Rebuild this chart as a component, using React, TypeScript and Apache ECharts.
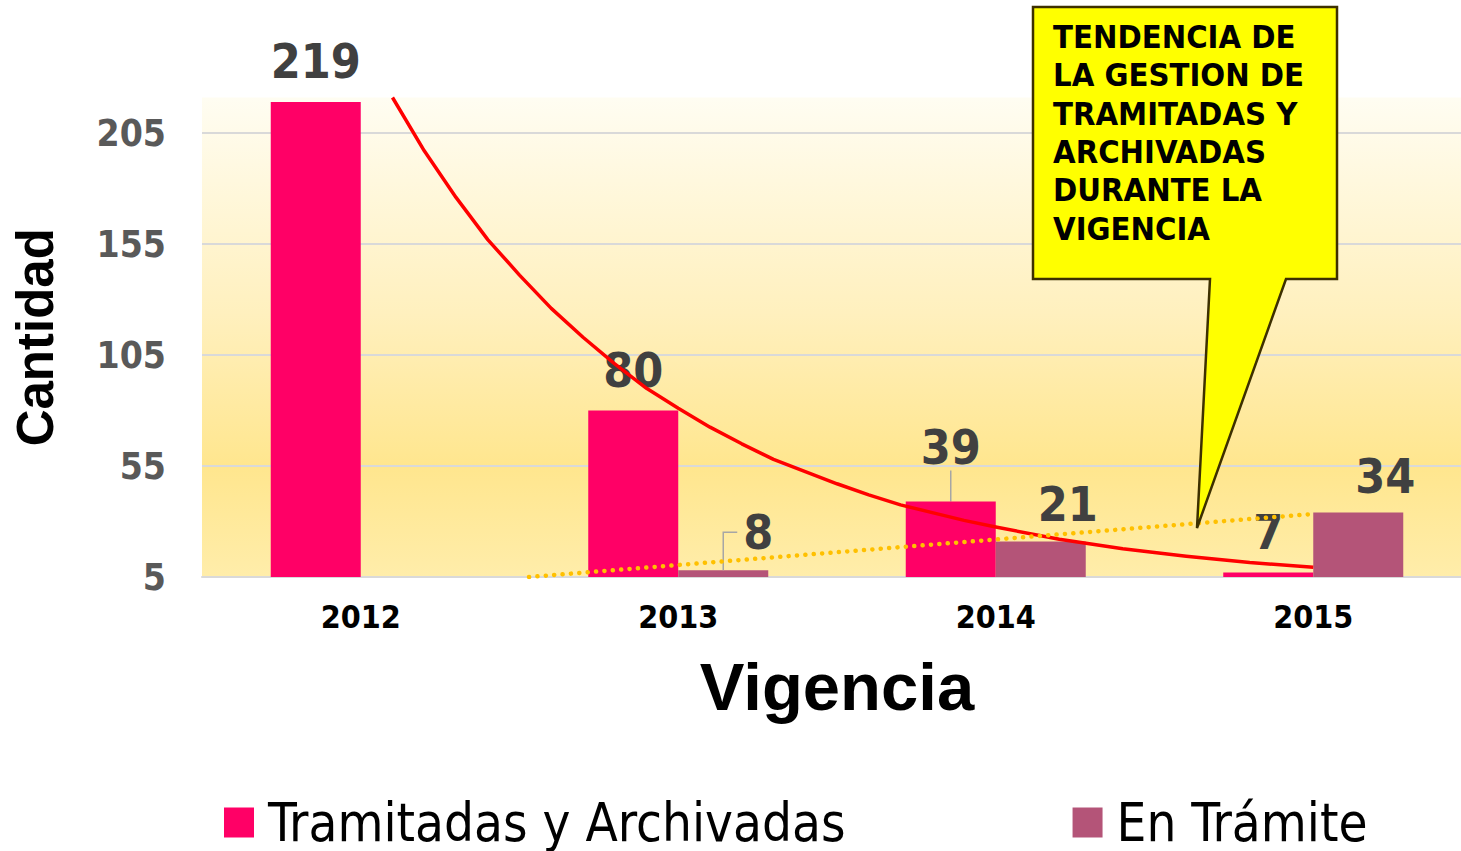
import React, { useEffect, useRef } from "react";
import * as echarts from "echarts";

const years = ["2012", "2013", "2014", "2015"];
const tramitadas = [219, 80, 39, 7];
const enTramite = [0, 8, 21, 34];
const yMin = 5;
const yMax = 221;
const yStep = 50;

// trend lines: [position along the year axis (2012 = 1), value]
const tramitadasTrend = [
  [1.1, 221], [1.2, 197], [1.3, 176], [1.4, 157], [1.5, 141], [1.6, 126],
  [1.7, 113], [1.8, 101], [1.9, 90], [2.0, 81], [2.1, 72.5], [2.2, 65],
  [2.3, 58], [2.4, 52.5], [2.5, 47], [2.6, 42], [2.7, 37.5], [2.8, 34],
  [2.9, 30.5], [3.0, 27.5], [3.2, 22], [3.4, 17.7], [3.6, 14.3], [3.8, 11.5],
  [4.0, 9.4],
];
const enTramiteTrend = [[1.53, 5], [4.0, 33.4]];

const seriesNames = ["Tramitadas y Archivadas", "En Trámite"];
const calloutLines = [
  "TENDENCIA DE",
  "LA GESTION DE",
  "TRAMITADAS Y",
  "ARCHIVADAS",
  "DURANTE LA",
  "VIGENCIA",
];

const COND = '"DejaVu Sans Condensed", "DejaVu Sans", sans-serif';
const PINK = "#FF0066";
const MAUVE = "#B45478";
const GUIDE = "#A6A6A6";
const BAR_W = 90;

// label offsets (styling) per series / data index
const tramLabelShift: Record<number, [number, number]> = { 2: [0, -14] };
const enLabelShift: Record<number, [number, number]> = { 1: [35, 3], 2: [27, 4], 3: [27, 4] };
const tramGuide = [2];
const enElbow = 1; // index of the "En Trámite" label with an elbow leader

export default function App() {
  const ref = useRef<HTMLDivElement>(null);
  useEffect(() => {
    if (!ref.current) return;
    document.body.style.margin = "0";
    document.body.style.overflow = "hidden";
    const chart = echarts.init(ref.current, undefined, { renderer: "svg" });
    const labelBase = {
      show: true,
      position: "top",
      distance: 17,
      fontFamily: COND,
      fontWeight: "bold",
      fontSize: 48,
      lineHeight: 48,
      color: "#404040",
    };
    const mk = (vals: number[], guide: number[]) =>
      vals.map((v, i) => ({
        value: v,
        label: { show: v !== 0 },
        labelLine: { show: guide.includes(i) },
      }));
    chart.setOption({
      animation: false,
      grid: {
        left: 202,
        right: 0,
        top: 97.5,
        bottom: 274,
        show: true,
        borderWidth: 0,
        backgroundColor: {
          type: "linear",
          x: 0,
          y: 0,
          x2: 0,
          y2: 1,
          colorStops: [
            { offset: 0, color: "#FFFDF2" },
            { offset: 0.45, color: "#FFF0BE" },
            { offset: 0.77, color: "#FFE68E" },
            { offset: 1, color: "#FFEDAA" },
          ],
        },
      },
      legend: {
        data: seriesNames,
        left: 224,
        top: 796,
        padding: 0,
        icon: "rect",
        itemWidth: 30,
        itemHeight: 30,
        itemGap: 227,
        textStyle: {
          fontFamily: COND,
          fontSize: 52.5,
          lineHeight: 52,
          color: "#000",
          padding: [0, 0, 0, 9],
        },
      },
      xAxis: [
        {
          type: "category",
          data: years,
          axisLine: { lineStyle: { color: "#D9D9D9", width: 2 } },
          axisTick: { show: false },
          axisLabel: {
            fontFamily: COND,
            fontWeight: "bold",
            fontSize: 32,
            color: "#000",
            margin: 24,
          },
          name: "Vigencia",
          nameLocation: "middle",
          nameGap: 76,
          nameTextStyle: {
            fontFamily: "Liberation Sans, sans-serif",
            fontWeight: "bold",
            fontSize: 67,
            color: "#000",
          },
        },
        { type: "value", min: 0.5, max: 4.5, show: false },
      ],
      yAxis: {
        type: "value",
        min: yMin,
        max: yMax,
        interval: yStep,
        axisLine: { show: false },
        axisTick: { show: false },
        splitLine: { showMaxLine: false, lineStyle: { color: "#D9D9D9", width: 2 } },
        axisLabel: {
          fontFamily: COND,
          fontWeight: "bold",
          fontSize: 37,
          color: "#595959",
          margin: 36,
          showMaxLabel: false,
        },
        name: "Cantidad",
        nameLocation: "middle",
        nameRotate: 90,
        nameGap: 141,
        nameTextStyle: {
          fontFamily: "Liberation Sans, sans-serif",
          fontWeight: "bold",
          fontSize: 51,
          color: "#000",
        },
      },
      series: [
        {
          name: seriesNames[0],
          type: "bar",
          data: mk(tramitadas, tramGuide),
          barWidth: BAR_W,
          barGap: "0%",
          itemStyle: { color: PINK },
          label: labelBase,
          labelLine: { lineStyle: { color: GUIDE, width: 1.5 } },
          labelLayout: (p: any) => {
            const s = tramLabelShift[p.dataIndex];
            return s ? { dx: s[0], dy: s[1] } : {};
          },
          z: 2,
        },
        {
          name: seriesNames[1],
          type: "bar",
          data: mk(enTramite, []),
          barWidth: BAR_W,
          barGap: "0%",
          itemStyle: { color: MAUVE },
          label: labelBase,
          labelLayout: (p: any) => {
            const s = enLabelShift[p.dataIndex];
            return s ? { dx: s[0], dy: s[1] } : {};
          },
          z: 2,
        },
        {
          type: "line",
          xAxisIndex: 1,
          data: tramitadasTrend,
          smooth: false,
          symbol: "none",
          lineStyle: { color: "#FF0000", width: 3.5, join: "round" },
          clip: true,
          z: 5,
          silent: true,
        },
        {
          type: "line",
          xAxisIndex: 1,
          data: enTramiteTrend,
          symbol: "none",
          lineStyle: { color: "#FFC000", width: 4.5, type: [0.1, 8.3], cap: "round" },
          clip: true,
          z: 5,
          silent: true,
        },
      ],
      graphic: [
        {
          id: "callout",
          type: "polygon",
          z: 100,
          shape: {
            points: [
              [1033, 7], [1337, 7], [1337, 279], [1286, 279], [1197, 528], [1210, 279], [1033, 279],
            ],
          },
          style: { fill: "#FFFF00", stroke: "#3D3000", lineWidth: 2.5, lineJoin: "miter" },
        },
        {
          id: "calloutText",
          type: "text",
          z: 101,
          x: 1053,
          y: 18,
          style: {
            text: calloutLines.join("\n"),
            fontFamily: COND,
            fontWeight: "bold",
            fontSize: 32.5,
            lineHeight: 38.3,
            fill: "#000",
            verticalAlign: "top",
            align: "left",
          },
        },
      ],
    });
    // elbow leader for the shifted "8" label, placed through the axes' scales
    const p = chart.convertToPixel({ xAxisIndex: 0, yAxisIndex: 0 }, [
      years[enElbow],
      enTramite[enElbow],
    ]) as number[];
    if (p && isFinite(p[0])) {
      const barCx = p[0] + BAR_W / 2;
      const ly = p[1] - 38;
      chart.setOption({
        graphic: [
          {
            id: "elbow",
            type: "polyline",
            z: 4,
            shape: { points: [[barCx + 14, ly], [barCx, ly], [barCx, p[1]]] },
            style: { stroke: GUIDE, lineWidth: 1.5, fill: "none" },
          },
        ],
      });
    }
    return () => chart.dispose();
  }, []);
  return (
    <div
      ref={ref}
      style={{ position: "fixed", left: 0, top: 0, width: 1472, height: 851, background: "#fff" }}
    />
  );
}
